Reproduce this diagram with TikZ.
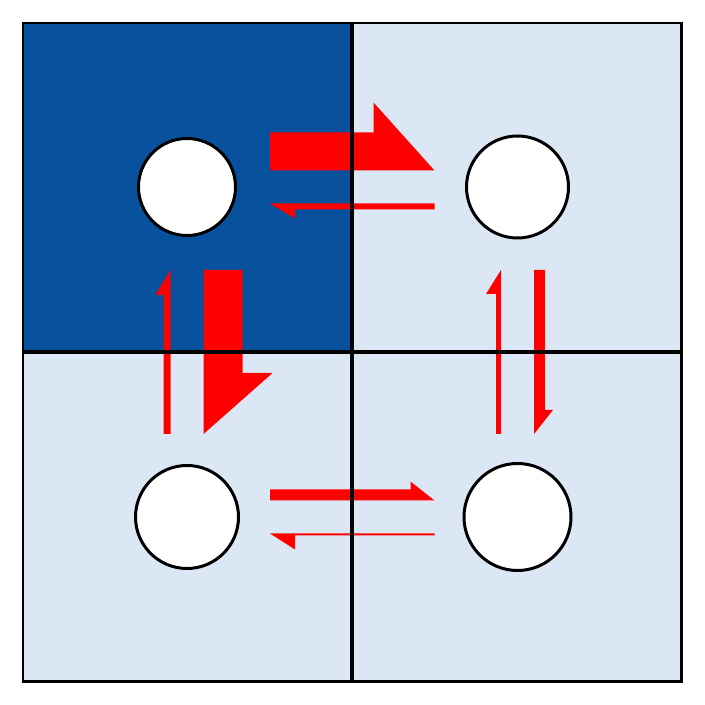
\documentclass[tikz,border=0pt]{standalone}
\usepackage{tikz}
\usetikzlibrary{calc}

\definecolor{cellDark}{HTML}{08519C}
\definecolor{cellLight}{HTML}{DBE7F4}

% half arrow from one site to the next: from, to, shaft width, head width, head length
\newcommand{\flux}[5]{%
    \pgfmathsetmacro{\fluxW}{16.5+#3}
    \pgfmathsetmacro{\fluxH}{16.5+#4}
    \pgfmathsetmacro{\fluxL}{83+#5}
    \fill[red] ($(#1)!83pt!(#2)!16.5pt!90:(#2)$) --
               ($(#2)!83pt!(#1)!16.5pt!-90:(#1)$) --
               ($(#2)!\fluxL pt!(#1)!\fluxH pt!-90:(#1)$) --
               ($(#2)!\fluxL pt!(#1)!\fluxW pt!-90:(#1)$) --
               ($(#1)!83pt!(#2)!\fluxW pt!90:(#2)$) -- cycle;
}

\begin{document}
\begin{tikzpicture}[x=1pt, y=1pt,
    site/.style={circle, draw, fill=white, line width=3pt, inner sep=0pt}]
    \useasboundingbox (0,0) rectangle (705,705);

    % Cells
    \fill[cellLight] (23,23.5) rectangle (681.5,682);
    \fill[cellDark] (23,353) rectangle (352,682);

    % Sites
    \node[site, minimum size=97pt] (tl) at (187,518) {};
    \node[site, minimum size=102pt] (tr) at (517.5,518) {};
    \node[site, minimum size=103pt] (bl) at (187,188) {};
    \node[site, minimum size=107pt] (br) at (517.5,188) {};

    % Fluxes between neighbouring sites
    \foreach \a/\b/\sw/\hw/\hl in {tl/tr/38/68/61, tr/tl/6/15/25,
                                   tl/bl/39/69/61, bl/tl/7/15/25,
                                   tr/br/11/19/24, br/tr/5/15/24,
                                   bl/br/11/19/24, br/bl/2/16/25} {
        \flux{\a}{\b}{\sw}{\hw}{\hl}
    }

    % Grid
    \draw[line width=4.6pt] (352,23.5) -- (352,682);
    \draw[line width=4.6pt] (23,353) -- (681.5,353);
    \draw[line width=2.8pt] (23,23.5) rectangle (681.5,682);
\end{tikzpicture}
\end{document}
